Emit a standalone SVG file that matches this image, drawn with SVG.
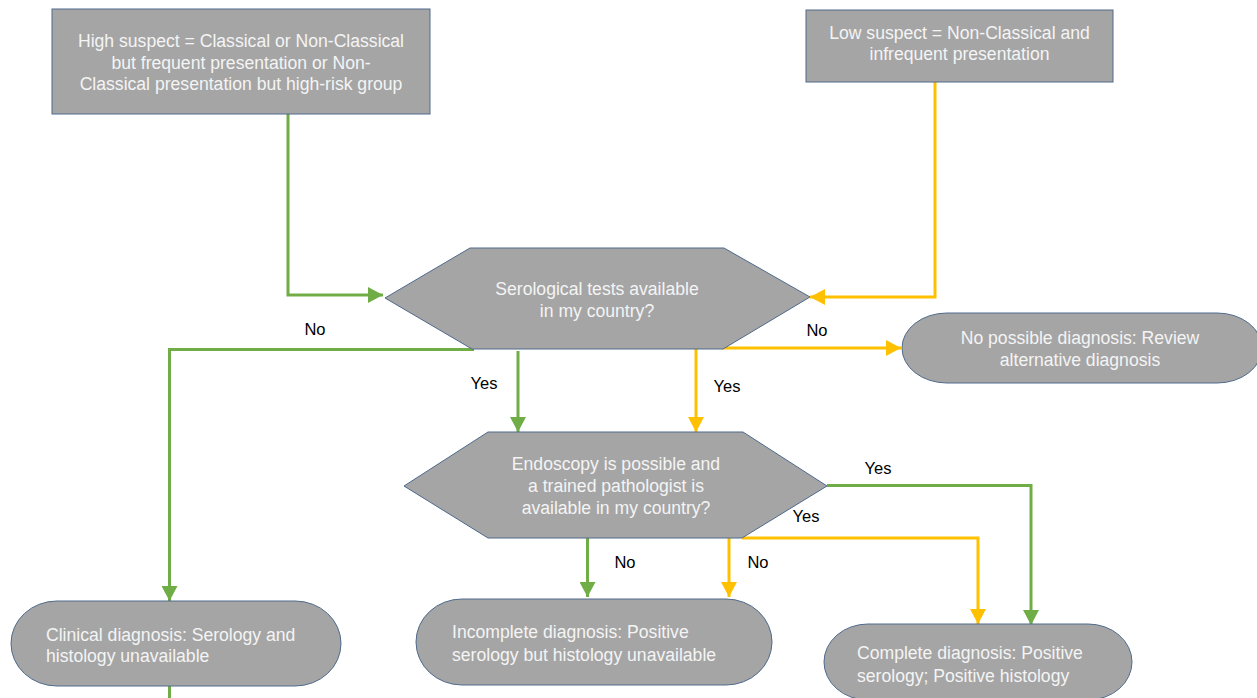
<svg xmlns="http://www.w3.org/2000/svg" width="1257" height="698" viewBox="0 0 1257 698">
<defs>
<style>
.box{fill:#A5A5A5;stroke:#4E6A8C;stroke-width:1}
.t{font-family:"Liberation Sans",Arial,sans-serif;font-size:17.6px;fill:#F4F4F4}
.c{text-anchor:middle}
.lbl{font-family:"Liberation Sans",Arial,sans-serif;font-size:16.5px;fill:#000;text-anchor:middle}
.g{fill:none;stroke:#70AD47;stroke-width:3}
.o{fill:none;stroke:#FFC000;stroke-width:3}
</style>
<marker id="ag" markerUnits="userSpaceOnUse" markerWidth="16" markerHeight="16" viewBox="0 0 16 16" refX="15" refY="8" orient="auto">
<path d="M0,0 L15,8 L0,16 Z" fill="#70AD47"/>
</marker>
<marker id="ao" markerUnits="userSpaceOnUse" markerWidth="16" markerHeight="16" viewBox="0 0 16 16" refX="15" refY="8" orient="auto">
<path d="M0,0 L15,8 L0,16 Z" fill="#FFC000"/>
</marker>
</defs>
<rect width="1257" height="698" fill="#FFFFFF"/>

<g id="connectors">
<path class="g" d="M288,114 V295 H383" marker-end="url(#ag)"/>
<path class="o" d="M935,82 V297 H810" marker-end="url(#ao)"/>
<path class="g" d="M474,349.5 H169.5 V601" marker-end="url(#ag)"/>
<path class="g" d="M169.5,686 V698"/>
<path class="g" d="M518,351 V432" marker-end="url(#ag)"/>
<path class="o" d="M696,349 V432" marker-end="url(#ao)"/>
<path class="o" d="M722,348 H901" marker-end="url(#ao)"/>
<path class="g" d="M827,485.5 H1031 V625" marker-end="url(#ag)"/>
<path class="o" d="M742,538 H978 V624" marker-end="url(#ao)"/>
<path class="g" d="M587.5,538 V597" marker-end="url(#ag)"/>
<path class="o" d="M729,538 V597" marker-end="url(#ao)"/>
<text class="lbl" x="315" y="335">No</text>
<text class="lbl" x="484" y="389">Yes</text>
<text class="lbl" x="727" y="392">Yes</text>
<text class="lbl" x="817" y="336">No</text>
<text class="lbl" x="878" y="474">Yes</text>
<text class="lbl" x="806" y="522">Yes</text>
<text class="lbl" x="625" y="568">No</text>
<text class="lbl" x="758" y="568">No</text>
</g>

<g id="high-suspect">
<rect class="box" x="52" y="9" width="378" height="105"/>
<text class="t c" x="241" y="47">High suspect = Classical or Non-Classical</text>
<text class="t c" x="241" y="69">but frequent presentation or Non-</text>
<text class="t c" x="241" y="90">Classical presentation but high-risk group</text>
</g>

<g id="low-suspect">
<rect class="box" x="806" y="10" width="307" height="72"/>
<text class="t c" x="959.5" y="39">Low suspect = Non-Classical and</text>
<text class="t c" x="959.5" y="60">infrequent presentation</text>
</g>

<g id="serological">
<polygon class="box" points="385,298 470,248 724,248 810,297 723,349 472,349"/>
<text class="t c" x="597" y="295">Serological tests available</text>
<text class="t c" x="597" y="317">in my country?</text>
</g>

<g id="endoscopy">
<polygon class="box" points="404,486 488,432 743,432 827,486 742,538 488,538"/>
<text class="t c" x="616" y="470">Endoscopy is possible and</text>
<text class="t c" x="616" y="492">a trained pathologist is</text>
<text class="t c" x="616" y="514">available in my country?</text>
</g>

<g id="no-possible">
<rect class="box" x="902" y="313" width="360" height="70" rx="45" ry="35"/>
<text class="t c" x="1080" y="344">No possible diagnosis: Review</text>
<text class="t c" x="1080" y="366">alternative diagnosis</text>
</g>

<g id="clinical">
<rect class="box" x="11" y="601" width="330" height="85" rx="46" ry="42.5"/>
<text class="t" x="46" y="641">Clinical diagnosis: Serology and</text>
<text class="t" x="46" y="662">histology unavailable</text>
</g>

<g id="incomplete">
<rect class="box" x="416" y="599" width="356" height="86" rx="46" ry="43"/>
<text class="t" x="452" y="638">Incomplete diagnosis: Positive</text>
<text class="t" x="452" y="661">serology but histology unavailable</text>
</g>

<g id="complete">
<rect class="box" x="824" y="624" width="308" height="76" rx="44" ry="38"/>
<text class="t" x="857" y="659">Complete diagnosis: Positive</text>
<text class="t" x="857" y="682">serology; Positive histology</text>
</g>
</svg>
